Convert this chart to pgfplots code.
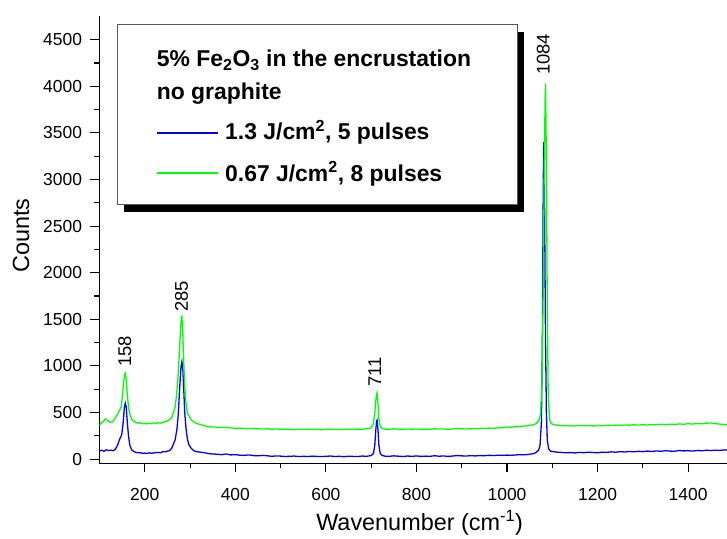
\documentclass[border=0pt]{standalone}
\usepackage{fontspec}
\setmainfont{Liberation Sans}
\usepackage{pgfplots}
\usepackage{pgfplotstable}
\pgfplotsset{compat=1.18}

% 1.3 J/cm2, 5 pulses
\pgfplotstableread{
x y
100 88
105 95
110 85
115 100
120 92
125 96
130 90
135 105
140 150
145 220
149 260
152 380
155 560
157 600
159 560
161 420
164 250
167 150
171 100
175 85
180 72
185 68
190 70
195 62
200 65
205 60
210 68
215 63
220 66
225 70
230 72
235 68
240 80
245 78
250 85
255 92
260 120
263 160
267 205
271 320
274 480
277 760
280 990
282 1045
284 960
286 760
288 520
291 330
294 220
297 160
302 120
307 95
312 82
320 76
330 70
340 60
350 55
360 52
370 48
380 55
390 45
400 48
410 42
420 40
430 45
440 38
450 35
460 40
470 36
480 30
490 34
500 32
510 28
520 30
530 33
540 27
550 30
560 28
570 32
580 29
590 27
600 30
610 33
620 28
630 30
640 26
650 31
660 29
670 27
680 33
690 30
700 38
705 60
708 150
710 300
712 410
713 418
715 320
717 150
720 60
724 40
730 32
740 30
750 35
760 31
770 28
780 33
790 30
800 34
810 29
820 32
830 30
840 36
850 31
860 34
870 29
880 33
890 38
900 35
910 33
920 37
930 34
940 38
950 36
960 41
970 38
980 42
990 40
1000 43
1010 41
1020 45
1030 48
1040 46
1050 52
1060 60
1065 75
1070 98
1073 150
1076 400
1078 1200
1080 2900
1081 3400
1083 2700
1085 1300
1087 500
1089 200
1092 110
1096 85
1105 78
1110 75
1120 72
1130 68
1140 70
1150 66
1160 72
1170 69
1180 74
1190 71
1200 68
1210 75
1220 72
1230 78
1240 74
1250 80
1260 76
1270 82
1280 78
1290 84
1300 80
1310 86
1320 82
1330 88
1340 84
1350 90
1360 86
1370 84
1380 92
1390 88
1400 90
1410 86
1420 93
1430 89
1440 95
1450 92
1460 96
1470 93
1480 99
1490 95
1500 97
}\bluedata

% 0.67 J/cm2, 8 pulses
\pgfplotstableread{
x y
100 360
103 385
106 395
110 410
113 430
116 420
120 405
124 395
128 400
132 420
136 450
140 480
144 520
148 560
150 650
153 800
155 900
157 920
159 860
161 720
164 560
167 480
171 430
175 410
180 395
185 385
190 390
195 380
200 383
205 378
210 385
215 380
220 388
225 383
230 390
235 386
240 395
245 400
250 410
255 425
260 450
263 500
267 560
270 680
273 850
276 1100
279 1400
281 1520
282 1530
284 1350
286 1050
288 800
291 600
294 500
298 460
303 420
308 400
313 385
320 375
330 360
340 350
350 345
360 342
370 338
380 340
390 335
400 330
410 333
420 328
430 330
440 325
450 328
460 322
470 326
480 320
490 324
500 318
510 322
520 320
530 316
540 320
550 318
560 322
570 317
580 320
590 315
600 319
610 322
620 317
630 320
640 316
650 321
660 318
670 322
680 320
690 325
700 335
705 380
708 500
710 620
712 700
713 711
715 600
717 430
720 350
724 330
730 322
740 320
750 325
760 321
770 318
780 323
790 320
800 324
810 319
820 322
830 320
840 326
850 322
860 324
870 320
880 323
890 330
900 326
910 322
920 327
930 325
940 330
950 328
960 333
970 330
980 335
990 338
1000 345
1010 342
1020 348
1030 352
1040 355
1050 362
1060 370
1065 385
1070 410
1074 480
1077 800
1080 1800
1082 3000
1084 3800
1085 4030
1087 3200
1089 1600
1091 700
1094 420
1098 380
1105 368
1110 365
1120 360
1130 357
1140 360
1150 355
1160 362
1170 358
1180 360
1190 356
1200 361
1210 358
1220 363
1230 360
1240 365
1250 362
1260 366
1270 364
1280 368
1290 365
1300 370
1310 366
1320 372
1330 368
1340 374
1350 370
1360 375
1370 372
1380 378
1390 374
1400 380
1410 376
1420 382
1430 378
1440 385
1450 388
1460 380
1470 376
1480 370
1490 366
1500 368
}\greendata

\begin{document}
\begin{tikzpicture}
\begin{axis}[
    scale only axis,
    width=633.9bp, height=446.9bp,
    xmin=100, xmax=1500,
    ymin=-45, ymax=4750,
    axis x line*=bottom, axis y line*=left,
    axis line style={line width=1.2bp},
    xtick={200,400,...,1400}, minor x tick num=1,
    ytick={0,500,...,4500}, minor y tick num=1,
    tick align=outside,
    major tick length=9bp, minor tick length=5bp,
    tick style={line width=1.1bp, black},
    /pgf/number format/assume math mode=true,
    /pgf/number format/1000 sep={},
    ticklabel style={font=\fontsize{17.5}{20}\selectfont},
    xticklabel style={yshift=-13bp},
    yticklabel style={xshift=-5bp},
    xlabel={Wavenumber (cm\textsuperscript{-1})},
    ylabel={Counts},
    label style={font=\fontsize{23.5}{26}\selectfont},
    xlabel style={at={(axis description cs:0.505,-0.1493)}, anchor=base},
    ylabel style={at={(axis description cs:-0.1112,0.51)}, anchor=base},
]
\addplot[blue, line width=1.3bp] table[x=x, y=y] {\bluedata};
\addplot[green, line width=1.3bp] table[x=x, y=y] {\greendata};

\begin{scope}[font=\fontsize{18.5}{20}\selectfont]
\node[rotate=90, anchor=west, inner sep=0pt] at (axis cs:156,990) {158};
\node[rotate=90, anchor=west, inner sep=0pt] at (axis cs:281,1580) {285};
\node[rotate=90, anchor=west, inner sep=0pt] at (axis cs:708,776) {711};
\node[rotate=90, anchor=west, inner sep=0pt] at (axis cs:1080,4120) {1084};
\end{scope}
\end{axis}

% legend box with shadow
\begin{scope}[font=\fontsize{23}{26}\selectfont\bfseries]
\fill[black] (24.5bp,431.3bp) rectangle (424.5bp,251.3bp);
\draw[line width=1bp, draw=black!65, fill=white] (17.5bp,438.3bp) rectangle (417.5bp,258.3bp);
\node[anchor=base west, inner sep=0pt] at (57.2bp,396.6bp) {5\% Fe\textsubscript{2}O\textsubscript{3} in the encrustation};
\node[anchor=base west, inner sep=0pt] at (57.2bp,363.3bp) {no graphite};
\draw[blue, line width=1.2bp] (57.2bp,330.3bp) -- (118.5bp,330.3bp);
\node[anchor=base west, inner sep=0pt] at (125.5bp,323.3bp) {1.3 J/cm\textsuperscript{2}, 5 pulses};
\draw[green, line width=1.2bp] (57.2bp,290.3bp) -- (118.5bp,290.3bp);
\node[anchor=base west, inner sep=0pt] at (125.5bp,281.6bp) {0.67 J/cm\textsuperscript{2}, 8 pulses};
\end{scope}

\pgfresetboundingbox
\useasboundingbox (-99.5bp,-75.7bp) rectangle (627.5bp,463.3bp);
\end{tikzpicture}
\end{document}
